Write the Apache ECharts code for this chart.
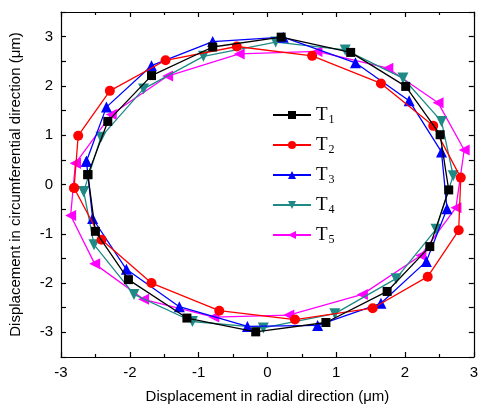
<!DOCTYPE html>
<html><head><meta charset="utf-8">
<script src="https://cdn.jsdelivr.net/npm/echarts@6/dist/echarts.min.js"></script>
<style>html,body{margin:0;padding:0;background:#fff}#c{width:481px;height:416px}</style>
</head><body><div id="c"></div>
<script>
var seriesNames = ['T1','T2','T3','T4','T5'];
var xTicks = [-3,-2,-1,0,1,2,3];
var yTicks = [-3,-2,-1,0,1,2,3];
var T1 = [[-2.61,0.20],[-2.32,1.28],[-1.685,2.21],[-0.795,2.79],[0.20,2.99],[1.21,2.68],[2.01,1.99],[2.51,1.01],[2.635,-0.11],[2.36,-1.26],[1.74,-2.17],[0.85,-2.80],[-0.17,-2.99],[-1.17,-2.71],[-2.02,-1.93],[-2.50,-0.95]];
var T2 = [[-2.81,-0.07],[-2.75,0.99],[-2.29,1.90],[-1.48,2.52],[-0.445,2.80],[0.65,2.61],[1.65,2.05],[2.41,1.19],[2.81,0.14],[2.78,-0.93],[2.33,-1.87],[1.53,-2.51],[0.40,-2.74],[-0.70,-2.56],[-1.685,-2.00],[-2.41,-1.12]];
var T3 = [[-2.63,0.47],[-2.34,1.57],[-1.685,2.41],[-0.795,2.90],[0.23,2.99],[1.28,2.47],[2.06,1.70],[2.53,0.66],[2.61,-0.49],[2.31,-1.56],[1.65,-2.41],[0.73,-2.86],[-0.29,-2.88],[-1.28,-2.48],[-2.05,-1.72],[-2.54,-0.69]];
var T4 = [[-2.67,-0.14],[-2.42,0.96],[-1.80,1.94],[-0.93,2.60],[0.12,2.89],[1.13,2.73],[1.97,2.16],[2.53,1.28],[2.70,0.18],[2.45,-0.91],[1.87,-1.91],[0.98,-2.62],[-0.06,-2.91],[-1.09,-2.78],[-1.94,-2.23],[-2.52,-1.22]];
var T5 = [[-2.79,0.43],[-2.27,1.42],[-1.45,2.20],[-0.41,2.65],[0.72,2.70],[1.75,2.36],[2.48,1.66],[2.86,0.70],[2.74,-0.47],[2.23,-1.44],[1.38,-2.23],[0.31,-2.65],[-0.78,-2.69],[-1.80,-2.33],[-2.51,-1.61],[-2.86,-0.63]];

var allData = [T1,T2,T3,T4,T5];
var colors = ['#000000','#ff0000','#0000ff','#1f8a85','#ff00ff'];
var symbols = ['rect','circle','triangle','triangle','triangle'];
var rotations = [0,0,0,180,90];
var sizes = [9,10,11,11,11];

function closed(d){ return d.concat([d[0]]); }

var labelFont = {fontFamily:'Liberation Sans, Arial, sans-serif', fontSize:15, color:'#000'};
function axisBase(pos, show){
  return {
    type:'value', position:pos, min:-3, max:3, interval:1,
    axisLine:{show:true, onZero:false, lineStyle:{color:'#000', width:1.2}},
    axisTick:{show:true, inside:true, length:5, lineStyle:{color:'#000', width:1.2}},
    minorTick:{show:true, splitNumber:2, length:3, lineStyle:{color:'#000', width:1.2}},
    splitLine:{show:false}, minorSplitLine:{show:false},
    axisLabel:Object.assign({show:show, margin:8}, labelFont)
  };
}
var xb = axisBase('bottom', true);
xb.name = 'Displacement in radial direction (\u03bcm)';
xb.nameLocation = 'middle'; xb.nameGap = 32;
xb.nameTextStyle = Object.assign({}, labelFont);
var xt = axisBase('top', false);
var yl = axisBase('left', true);
yl.min = -3.5; yl.max = 3.5; yl.interval = 0.5;
yl.axisLabel.formatter = function(v){ return (Math.abs(v - Math.round(v))<1e-9) ? String(Math.round(v)) : ''; };
yl.minorTick.show = false;
yl.name = 'Displacement in circumferential direction (\u03bcm)';
yl.nameLocation = 'middle'; yl.nameGap = 38;
yl.nameTextStyle = Object.assign({}, labelFont);
var yr = axisBase('right', false);
yr.min = -3.5; yr.max = 3.5; yr.interval = 0.5; yr.minorTick.show = false;

var series = allData.map(function(d,i){
  return {
    name: seriesNames[i], type:'line', xAxisIndex:0, yAxisIndex:0,
    data: closed(d), symbol: symbols[i], symbolSize: sizes[i], symbolRotate: rotations[i],
    showAllSymbol:true,
    lineStyle:{color:colors[i], width:1.3},
    itemStyle:{color:colors[i]},
    z: 10 - i
  };
});

var chart = echarts.init(document.getElementById('c'), null, {renderer:'canvas'});
chart.setOption({
  animation:false,
  backgroundColor:'#fff',
  grid:{left:59, right:4, top:12, bottom:59, containLabel:false},
  xAxis:[xb, xt],
  yAxis:[yl, yr],
  legend:{
    orient:'vertical', left:267, top:99, itemWidth:38, itemHeight:10, itemGap:8,
    data: seriesNames,
    formatter:function(n){ return '{t|T}{s|' + n.substring(1) + '}'; },
    textStyle:{
      rich:{
        t:{fontFamily:'Liberation Serif, Times New Roman, serif', fontSize:19, lineHeight:22, color:'#000'},
        s:{fontFamily:'Liberation Serif, Times New Roman, serif', fontSize:12, lineHeight:12, color:'#000', padding:[10,0,0,1]}
      }
    }
  },
  series: series
});
</script></body></html>
